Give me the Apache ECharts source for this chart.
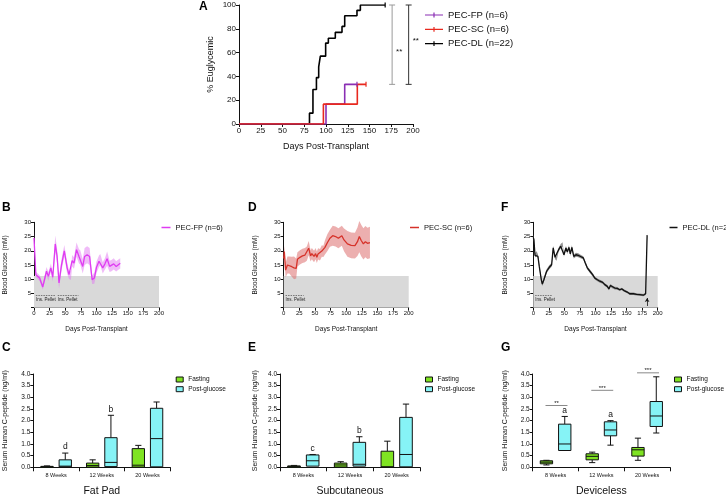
<!DOCTYPE html>
<html><head><meta charset="utf-8">
<script src="https://cdn.jsdelivr.net/npm/echarts@6/dist/echarts.min.js"></script>
<style>html,body{margin:0;padding:0;background:#fff}#c{width:726px;height:497px}</style>
</head><body><div id="c"></div><script>
// ---------- Panel A: Kaplan-Meier style % euglycemic ----------
const fpSurvival = [[0,0],[100,16.7],[121.5,33.3],[135.6,33.3]];
const scSurvival = [[0,0],[97,16.7],[136,33.3],[146,33.3]];
const dlSurvival = [[0,0],[81,9.1],[85,29],[89,39],[91.6,48],[93.5,57],[99.6,68],[102.7,72],[110.7,77],[118.4,82],[121.5,91],[135.6,95.5],[139.5,100],[168,100]];
const sigBracketX = [176, 195];
const sigBracketLow = [33.3, 33.3];
const sigBracketHigh = [100, 100];
const sigBracketTextY = [61, 70];
const sigBracketText = ['**', '**'];

// ---------- Panels B, D, F: blood glucose ----------
const fpDays = [0,3,9,14,20,23,27,30,34,37,40,44,48.5,53,56,59,61,64,68,72,74,78,81,85,89,93,96.5,100,104,106,110,113.5,117,121,124,127.5,131.5,135,138];
const fpMean = [24.5,11.6,10.4,7.3,12.8,11,14,10.7,22.4,18,8.7,15,20,14,11.6,11.2,16.5,15.7,20.4,18,17.7,14.5,18,18.6,18,9.8,10.4,14.2,16.3,16.9,14,15.4,17.2,14.5,14.8,15.4,14.5,15.1,15.6];
const fpSem  = [2.5,1,1,1,1.5,1.5,1.5,1.5,3,2.5,2,2,2,2,1.5,1.5,2,2,2.5,2.5,2.5,2.5,3,3,3,1.5,2,2,2,2,2,2,2.5,2,2,2,1.8,1.8,1.8];

const scDays = [0,1,3,6,9,13,16.5,20,22,26,30,34,37,40,43,45,48.5,51,53,55,58,61,63.5,66,70,74,78.4,83,87.5,93,96.5,102,108,114,118,121,124,127.5,130.7,134,138];
const scMean = [17.3,19.7,13.2,15,15,14.4,14,13.8,17,17.7,18.2,18.5,19,20.9,18.2,19,18,19,17.7,18.9,18.6,19.9,19.8,21.2,22.9,24.4,25.3,25,24.4,25.3,23.8,22.4,21.9,21.8,23.2,25,23.6,22.4,23.2,22.6,22.9];
const scSem  = [2,2,2.5,3,3,3.5,4,3.5,2.5,2.5,2.5,2.5,2.5,2.5,2,2,2,2,2,2,2,2,2,2.5,3,3,3.5,3.5,3.5,3.5,4,4.5,4.5,4.5,5,5.5,5.5,5.5,5.5,5.5,5.5];

const dlDays = [0,1,2.7,5.4,7.5,9.6,12.9,14.5,17,21.4,25.7,29.5,32,35,37.5,40.7,44,47,49.3,52.5,54.7,57.3,59.5,62,65,68.6,72.3,76,80.4,83.6,86.8,91,95.4,99,103,107,111.5,115,119,121.5,124,127,131,135,139,142.5,146,151,155,161,166,171,177,180.6,183];
const dlMean = [24.7,23.9,18.4,19,18,14.5,9.8,8.3,9.8,12.8,14.2,15.1,21,17.7,17.2,20.4,21.6,22.2,18.6,21,19.6,21.2,18.9,21.2,18,18.6,18.4,18,17.5,15.7,14,12.8,11.6,10.4,9.8,9.3,8.9,8.1,7.5,6.6,7.8,7.3,6.9,6.8,6.3,6.6,6,5.5,4.9,4.9,4.7,4.6,4.4,4.9,25.5];
const dlSem  = [1,0.8,0.8,0.8,0.8,0.7,0.7,0.7,0.7,0.7,0.7,0.7,0.8,0.7,0.7,0.7,0.8,0.8,0.7,0.7,0.7,0.7,0.7,0.7,0.7,0.7,0.7,0.6,0.6,0.6,0.6,0.6,0.6,0.5,0.5,0.5,0.5,0.5,0.5,0.5,0.5,0.5,0.5,0.5,0.4,0.4,0.4,0.4,0.4,0.4,0.4,0.4,0.4,0.4,1];

const euglycemicMax = 11.1;
const fpPellets = [[3,34],[38,71]];
const scPellets = [[3,32]];
const dlPellets = [[3,31]];
const pelletLevel = 4.3;
const dlArrowDay = 183;
const dlArrowRange = [0.6, 3.4];

// ---------- Panels C, E, G: serum C-peptide ----------
const weeks = ['8 Weeks', '12 Weeks', '20 Weeks'];
// rows: [whiskerLow, boxLow, median, boxHigh, whiskerHigh]
const fatPadFasting = [[0,0,0.02,0.04,0.06],[0.01,0.01,0.08,0.18,0.32],[0.01,0.01,0.09,0.8,0.94]];
const fatPadPost    = [[0.02,0.02,0.05,0.32,0.61],[0.03,0.03,0.21,1.27,2.23],[0.02,0.02,1.23,2.53,2.8]];
const fatPadLetters = ['d', 'b', ''];
const subcutFasting = [[0,0,0.03,0.06,0.08],[0.01,0.01,0.1,0.18,0.24],[0.01,0.01,0.02,0.69,1.12]];
const subcutPost    = [[0.05,0.05,0.28,0.53,0.55],[0.05,0.05,0.13,1.07,1.31],[0.02,0.02,0.55,2.14,2.71]];
const subcutLetters = ['c', 'b', ''];
const devFasting = [[0.1,0.15,0.22,0.28,0.3],[0.2,0.32,0.47,0.58,0.65],[0.3,0.48,0.75,0.85,1.25]];
const devPost    = [[0.7,0.72,1.0,1.85,2.18],[0.95,1.35,1.6,1.95,2.0],[1.47,1.75,2.2,2.82,3.88]];
const devLetters = ['a', 'a', ''];
const devSigY = [2.65, 3.3, 4.05];
const devSigText = ['**', '***', '***'];

// ---------- styling ----------
const FONT = 'Liberation Sans, Arial, sans-serif';
const C_FP = '#8a2fb4', C_SC = '#e8281e', C_DL = '#000';
const C_FP2 = '#df3cf2', C_FP2BAND = 'rgba(226,120,242,0.5)';
const C_SC2 = '#d6322a', C_SC2BAND = 'rgba(220,110,110,0.55)';
const C_DL2 = '#111', C_DL2BAND = 'rgba(110,110,110,0.75)';
const C_FAST = '#7fe322', C_POST = '#86f3f6';
const AX = '#111';

const chart = echarts.init(document.getElementById('c'), null, {renderer: 'canvas'});

const grids = [
  {left: 239, top: 5, width: 174, height: 119},
  {left: 34, top: 222.3, width: 125, height: 85.4},
  {left: 283.7, top: 222.3, width: 125, height: 85.4},
  {left: 533.3, top: 222.3, width: 124.4, height: 85.4},
  {left: 33.3, top: 374, width: 137, height: 93.3},
  {left: 280, top: 374, width: 140, height: 93.3},
  {left: 532.7, top: 374, width: 137.3, height: 93.3}
].map(g => Object.assign({outerBoundsMode: 'none', containLabel: false}, g));

function axisBase(fs) {
  return {
    axisLine: {show: true, lineStyle: {color: AX, width: 1}},
    axisTick: {show: true, length: 3, lineStyle: {color: AX, width: 1}},
    axisLabel: {fontSize: fs, color: '#111', fontFamily: FONT, margin: 3},
    splitLine: {show: false},
    nameTextStyle: {fontFamily: FONT, color: '#111'}
  };
}

const xAxes = [], yAxes = [];
// A
xAxes.push(Object.assign(axisBase(8), {gridIndex: 0, type: 'value', min: 0, max: 200, interval: 25,
  name: 'Days Post-Transplant', nameLocation: 'middle', nameGap: 18,
  nameTextStyle: {fontSize: 9, fontFamily: FONT, color: '#111'}}));
yAxes.push(Object.assign(axisBase(8), {gridIndex: 0, type: 'value', min: 0, max: 100, interval: 20,
  name: '% Euglycemic', nameLocation: 'middle', nameGap: 24,
  nameTextStyle: {fontSize: 9, fontFamily: FONT, color: '#111'}}));
// B, D, F
const glucoseNameGaps = [25, 25, 24.5];
for (let g = 1; g <= 3; g++) {
  xAxes.push(Object.assign(axisBase(6), {gridIndex: g, type: 'value', min: 0, max: 200, interval: 25,
    name: 'Days Post-Transplant', nameLocation: 'middle', nameGap: 18.5,
    nameTextStyle: {fontSize: 6.5, fontFamily: FONT, color: '#111'}}));
  const ya = Object.assign(axisBase(6), {gridIndex: g, type: 'value', min: 0, max: 30, interval: 5,
    name: 'Blood Glucose (mM)', nameLocation: 'middle', nameGap: glucoseNameGaps[g - 1],
    nameTextStyle: {fontSize: 6.5, fontFamily: FONT, color: '#111'}});
  ya.axisLabel = Object.assign({}, ya.axisLabel, {formatter: v => v === 0 ? '' : String(v)});
  yAxes.push(ya);
}
// C, E, G
const bottomTitles = ['Fat Pad', 'Subcutaneous', 'Deviceless'];
const peptideNameGaps = [25, 21.5, 24];
for (let k = 0; k < 3; k++) {
  const g = 4 + k;
  const xa = Object.assign(axisBase(5.5), {gridIndex: g, type: 'category', data: weeks,
    name: bottomTitles[k], nameLocation: 'middle', nameGap: 18.5,
    nameTextStyle: {fontSize: 10.5, fontFamily: FONT, color: '#111'}});
  xa.axisTick = {show: true, length: 4, lineStyle: {color: AX, width: 1}};
  xa.axisLabel = Object.assign({}, xa.axisLabel, {margin: 5});
  xAxes.push(xa);
  const ya = Object.assign(axisBase(6.5), {gridIndex: g, type: 'value', min: 0, max: 4, interval: 0.5,
    name: 'Serum Human C-peptide (ng/ml)', nameLocation: 'middle', nameGap: peptideNameGaps[k],
    nameTextStyle: {fontSize: 7, fontFamily: FONT, color: '#111'}});
  ya.axisLabel = Object.assign({}, ya.axisLabel, {formatter: v => v.toFixed(1)});
  yAxes.push(ya);
}

const series = [];

// ---- A ----
function kmSeries(name, data, color) {
  const last = data.length - 1;
  return {
    type: 'line', name, xAxisIndex: 0, yAxisIndex: 0, data, step: 'end',
    lineStyle: {color, width: 1.6}, itemStyle: {color},
    symbol: 'rect', showSymbol: true,
    symbolSize: (v, p) => p.dataIndex === last ? [1.2, 5] : 0,
    animation: false, silent: true
  };
}
series.push(kmSeries('PEC-DL (n=22)', dlSurvival, C_DL));
series.push(kmSeries('PEC-FP (n=6)', fpSurvival, C_FP));
series.push(kmSeries('PEC-SC (n=6)', scSurvival, C_SC));
series.push({
  type: 'custom', name: 'brackets', xAxisIndex: 0, yAxisIndex: 0, clip: false, silent: true,
  data: sigBracketX.map((x, i) => [x, sigBracketLow[i], sigBracketHigh[i], sigBracketTextY[i]]),
  encode: {x: 0, y: [1, 2]},
  renderItem(params, api) {
    const i = params.dataIndex;
    const col = i === 0 ? '#9a9a9a' : '#333';
    const x = api.value(0);
    const lo = api.coord([x, api.value(1)]);
    const hi = api.coord([x, api.value(2)]);
    const ty = api.coord([x, api.value(3)])[1];
    const st = {stroke: col, lineWidth: 1};
    return {type: 'group', children: [
      {type: 'line', shape: {x1: lo[0], y1: lo[1], x2: hi[0], y2: hi[1]}, style: st},
      {type: 'line', shape: {x1: lo[0] - 3, y1: lo[1], x2: lo[0] + 3, y2: lo[1]}, style: st},
      {type: 'line', shape: {x1: hi[0] - 3, y1: hi[1], x2: hi[0] + 3, y2: hi[1]}, style: st},
      {type: 'text', style: {text: sigBracketText[i], x: lo[0] + 4, y: ty, fontSize: 8, fontFamily: FONT, fill: '#111', verticalAlign: 'middle'}}
    ]};
  }
});

// ---- B, D, F ----
function glucoseSeries(g, name, days, mean, sem, color, bandColor, pellets, arrow) {
  const line = days.map((d, i) => [d, mean[i]]);
  const mlData = pellets.map(p => [
    {coord: [p[0], pelletLevel], symbol: 'none', label: {show: true, formatter: 'Ins. Pellet', position: 'insideStartBottom', distance: [0, 1.5], fontSize: 4.5, color: '#222', fontFamily: FONT}},
    {coord: [p[1], pelletLevel], symbol: 'none'}
  ]);
  if (arrow) {
    mlData.push([
      {coord: [arrow[0], arrow[1]], symbol: 'none', lineStyle: {type: 'solid', color: '#111', width: 0.8}, label: {show: false}},
      {coord: [arrow[0], arrow[2]], symbol: 'arrow', symbolSize: [3.5, 4]}
    ]);
  }
  return [
    {type: 'custom', name: 'band' + g, xAxisIndex: g, yAxisIndex: g, silent: true, animation: false, z: 2,
      data: days.map((d, i) => [d, mean[i] - sem[i], mean[i] + sem[i]]),
      encode: {x: 0, y: [1, 2]},
      renderItem(params, api) {
        if (params.dataIndex !== 0) return null;
        const top = days.map((d, i) => api.coord([d, mean[i] + sem[i]]));
        const bot = days.map((d, i) => api.coord([d, mean[i] - sem[i]])).reverse();
        return {type: 'polygon', shape: {points: top.concat(bot)}, style: {fill: bandColor}};
      }},
    {type: 'line', name, xAxisIndex: g, yAxisIndex: g, data: line, symbol: 'none', z: 3,
      lineStyle: {color, width: 1.3}, itemStyle: {color}, silent: true, animation: false,
      markArea: {silent: true, itemStyle: {color: '#d9d9d9'}, data: [[{coord: [0, 0]}, {coord: [200, euglycemicMax]}]]},
      markLine: {silent: true, symbol: ['none', 'none'], animation: false,
        label: {show: false},
        lineStyle: {type: [1.5, 1], color: '#333', width: 0.6},
        data: mlData}}
  ];
}
series.push(...glucoseSeries(1, 'PEC-FP (n=6)', fpDays, fpMean, fpSem, C_FP2, C_FP2BAND, fpPellets));
series.push(...glucoseSeries(2, 'PEC-SC (n=6)', scDays, scMean, scSem, C_SC2, C_SC2BAND, scPellets));
series.push(...glucoseSeries(3, 'PEC-DL (n=22)', dlDays, dlMean, dlSem, C_DL2, C_DL2BAND, dlPellets, [dlArrowDay, dlArrowRange[0], dlArrowRange[1]]));

// ---- C, E, G ----
function boxSeries(g, name, rows, side, color, letters) {
  return {
    type: 'custom', name, xAxisIndex: g, yAxisIndex: g, clip: false, silent: true, animation: false,
    itemStyle: {color},
    data: rows.map((r, i) => [i].concat(r)),
    encode: {x: 0, y: [1, 2, 3, 4, 5]},
    renderItem(params, api) {
      const cat = api.value(0);
      const band = api.size([1, 0])[0];
      const xc = api.coord([cat, 0])[0] + side * band * 0.2;
      const w = band * 0.27;
      const y = k => api.coord([cat, api.value(k)])[1];
      const wl = y(1), bl = y(2), md = y(3), bh = y(4), wh = y(5);
      const cap = w * 0.5;
      const st = {stroke: '#111', lineWidth: 1};
      const ch = [];
      ch.push({type: 'line', shape: {x1: xc, y1: bh, x2: xc, y2: wh}, style: st});
      ch.push({type: 'line', shape: {x1: xc - cap / 2, y1: wh, x2: xc + cap / 2, y2: wh}, style: st});
      if (wl - bl > 0.5) {
        ch.push({type: 'line', shape: {x1: xc, y1: bl, x2: xc, y2: wl}, style: st});
        ch.push({type: 'line', shape: {x1: xc - cap / 2, y1: wl, x2: xc + cap / 2, y2: wl}, style: st});
      }
      ch.push({type: 'rect', shape: {x: xc - w / 2, y: bh, width: w, height: Math.max(bl - bh, 0.8)}, style: {fill: color, stroke: '#111', lineWidth: 1}});
      ch.push({type: 'line', shape: {x1: xc - w / 2, y1: md, x2: xc + w / 2, y2: md}, style: st});
      const t = letters ? letters[params.dataIndex] : '';
      if (t) ch.push({type: 'text', style: {text: t, x: xc, y: wh - 1.5, align: 'center', verticalAlign: 'bottom', fontSize: 8.5, fontFamily: FONT, fill: '#111'}});
      return {type: 'group', children: ch};
    }
  };
}
series.push(boxSeries(4, 'Fasting', fatPadFasting, -1, C_FAST));
series.push(boxSeries(4, 'Post-glucose', fatPadPost, 1, C_POST, fatPadLetters));
series.push(boxSeries(5, 'Fasting', subcutFasting, -1, C_FAST));
series.push(boxSeries(5, 'Post-glucose', subcutPost, 1, C_POST, subcutLetters));
series.push(boxSeries(6, 'Fasting', devFasting, -1, C_FAST));
series.push(boxSeries(6, 'Post-glucose', devPost, 1, C_POST, devLetters));
series.push({
  type: 'custom', name: 'sig', xAxisIndex: 6, yAxisIndex: 6, clip: false, silent: true, animation: false,
  data: devSigY.map((v, i) => [i, v]),
  encode: {x: 0, y: 1},
  renderItem(params, api) {
    const cat = api.value(0);
    const band = api.size([1, 0])[0];
    const p = api.coord([cat, api.value(1)]);
    const x1 = p[0] - band * 0.22, x2 = p[0] + band * 0.26;
    return {type: 'group', children: [
      {type: 'line', shape: {x1, y1: p[1], x2, y2: p[1]}, style: {stroke: '#888', lineWidth: 1}},
      {type: 'text', style: {text: devSigText[params.dataIndex], x: (x1 + x2) / 2, y: p[1] + 1, align: 'center', verticalAlign: 'bottom', fontSize: 6, fontFamily: FONT, fill: '#111'}}
    ]};
  }
});

// ---- legends ----
const tickIcon = 'path://M0,4 L30,4 L30,6 L0,6 Z M14,1 L16,1 L16,9 L14,9 Z';
const legendText = fs => ({fontSize: fs, fontFamily: FONT, color: '#111'});
const legends = [
  {left: 425, top: 10, padding: 0, orient: 'vertical', itemWidth: 18, itemHeight: 8, itemGap: 4.3, selectedMode: false,
    textStyle: legendText(9.5),
    data: [
      {name: 'PEC-FP (n=6)', icon: tickIcon, itemStyle: {color: C_FP}},
      {name: 'PEC-SC (n=6)', icon: tickIcon, itemStyle: {color: C_SC}},
      {name: 'PEC-DL (n=22)', icon: tickIcon, itemStyle: {color: C_DL}}
    ]},
  {left: 161.5, top: 223.5, padding: 0, itemWidth: 9, itemHeight: 1.5, selectedMode: false, textStyle: legendText(7.5),
    data: [{name: 'PEC-FP (n=6)', icon: 'rect', itemStyle: {color: C_FP2}}]},
  {left: 410, top: 223.5, padding: 0, itemWidth: 9, itemHeight: 1.5, selectedMode: false, textStyle: legendText(7.5),
    data: [{name: 'PEC-SC (n=6)', icon: 'rect', itemStyle: {color: C_SC2}}]},
  {left: 669.5, top: 223.5, padding: 0, itemWidth: 8, itemHeight: 1.5, selectedMode: false, textStyle: legendText(7.5),
    data: [{name: 'PEC-DL (n=22)', icon: 'rect', itemStyle: {color: C_DL2}}]}
];
[175.7, 425, 674].forEach(x => legends.push({
  left: x, top: 376, padding: 0, orient: 'vertical', itemWidth: 7, itemHeight: 5, itemGap: 2.7, selectedMode: false,
  textStyle: legendText(6.5),
  data: [
    {name: 'Fasting', icon: 'rect', itemStyle: {color: C_FAST, borderColor: '#111', borderWidth: 1}},
    {name: 'Post-glucose', icon: 'rect', itemStyle: {color: C_POST, borderColor: '#111', borderWidth: 1}}
  ]
}));

const letterStyle = {font: 'bold 12px Liberation Sans, Arial, sans-serif', fill: '#000'};
const graphic = [
  ['A', 199, 1], ['B', 2, 202], ['D', 248, 202], ['F', 501, 202],
  ['C', 2, 342], ['E', 248, 342], ['G', 501, 342]
].map(([t, x, y]) => ({type: 'text', left: x, top: y, style: Object.assign({text: t}, letterStyle)}));

chart.setOption({
  animation: false,
  backgroundColor: '#fff',
  textStyle: {fontFamily: FONT},
  grid: grids,
  xAxis: xAxes,
  yAxis: yAxes,
  legend: legends,
  graphic,
  series
});
</script></body></html>
